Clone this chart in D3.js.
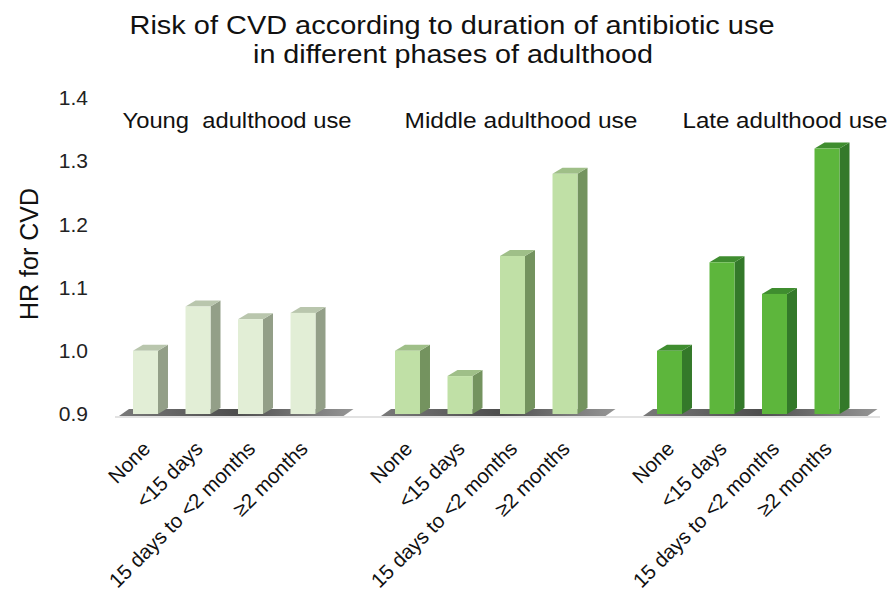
<!DOCTYPE html>
<html>
<head>
<meta charset="utf-8">
<script src="https://cdn.jsdelivr.net/npm/d3@7"></script>
<style>
  html, body { margin: 0; padding: 0; background: #fff; }
  svg { display: block; font-family: "Liberation Sans", Arial, sans-serif; }
</style>
</head>
<body>
<svg id="chart" width="891" height="614"></svg>
<script>
// Phases of adulthood (panels) and antibiotic-use duration categories
const phases = ["Young adulthood use", "Middle adulthood use", "Late adulthood use"];
const durations = ["None", "<15 days", "15 days to <2 months", "\u22652 months"];

// Hazard ratio for CVD per phase, in the order of `durations`
const youngHR  = [1.00, 1.07, 1.05, 1.06];
const middleHR = [1.00, 0.96, 1.15, 1.28];
const lateHR   = [1.00, 1.14, 1.09, 1.32];

const yTicks = [0.9, 1.0, 1.1, 1.2, 1.3, 1.4];

const seriesByPhase = [youngHR, middleHR, lateHR];

// Face colours for each panel: front, side, top
const palette = [
  { front: "#e2eed6", side: "#939f88", top: "#b9c6ad" },
  { front: "#c0e0a6", side: "#74935f", top: "#9fbf88" },
  { front: "#5db63c", side: "#34792a", top: "#3f8d2f" }
];

// Panel heading placement (centre offset within the panel, rendered width)
const headingCenter = [117, 139, 141];
const headingWidth = [229, 233, 205];
const headingText = ["Young  adulthood use", "Middle adulthood use", "Late adulthood use"];

const svg = d3.select("#chart");

const y = d3.scaleLinear().domain([0.9, 1.4]).range([414, 98]);
const outer = d3.scaleBand().domain(phases).range([120, 906]);
const inner = d3.scaleBand().domain(durations).range([13, 195.5]).paddingInner(0.524);

const depthX = 10, depthY = 6;
const base = y(0.9);

// Title (two lines)
svg.append("text")
  .attr("x", 452).attr("y", 34)
  .attr("text-anchor", "middle")
  .attr("font-size", 25).attr("fill", "#111")
  .attr("textLength", 645).attr("lengthAdjust", "spacingAndGlyphs")
  .text("Risk of CVD according to duration of antibiotic use");
svg.append("text")
  .attr("x", 453).attr("y", 63)
  .attr("text-anchor", "middle")
  .attr("font-size", 25).attr("fill", "#111")
  .attr("textLength", 400).attr("lengthAdjust", "spacingAndGlyphs")
  .text("in different phases of adulthood");

// Y axis: labels only
const yAxis = d3.axisLeft(y).tickValues(yTicks).tickSize(0).tickPadding(0)
  .tickFormat(d3.format(".1f"));
const gy = svg.append("g").attr("transform", "translate(88,0)").call(yAxis);
gy.select(".domain").remove();
gy.selectAll("text")
  .attr("font-size", 21).attr("fill", "#222")
  .attr("font-family", "'Liberation Sans', Arial, sans-serif");

svg.append("text")
  .attr("transform", "translate(38,254) rotate(-90)")
  .attr("text-anchor", "middle")
  .attr("font-size", 25).attr("fill", "#111")
  .text("HR for CVD");

// Gradient for the floor shading under each panel
const defs = svg.append("defs");
const fg = defs.append("linearGradient").attr("id", "floorGrad")
  .attr("x1", 0).attr("y1", 0).attr("x2", 1).attr("y2", 0);
fg.append("stop").attr("offset", "0%").attr("stop-color", "#6a6a6a");
fg.append("stop").attr("offset", "50%").attr("stop-color", "#3a3a3a");
fg.append("stop").attr("offset", "100%").attr("stop-color", "#8a8a8a");

// Baseline line
svg.append("line")
  .attr("x1", 115).attr("x2", 880)
  .attr("y1", base + 3).attr("y2", base + 3)
  .attr("stroke", "#d8d8d8").attr("stroke-width", 1.5);

phases.forEach((phase, pi) => {
  const g = svg.append("g").attr("transform", `translate(${outer(phase)},0)`);
  const col = palette[pi];
  const vals = seriesByPhase[pi];

  // Panel heading
  g.append("text")
    .attr("x", headingCenter[pi])
    .attr("y", 128)
    .attr("text-anchor", "middle")
    .attr("font-size", 22).attr("fill", "#111")
    .attr("xml:space", "preserve")
    .attr("textLength", headingWidth[pi]).attr("lengthAdjust", "spacingAndGlyphs")
    .text(headingText[pi]);

  // Floor strip
  const fx0 = inner(durations[0]) - 14;
  const fx1 = inner(durations[3]) + inner.bandwidth() + 28;
  g.append("path")
    .attr("d", `M${fx0},${base + 2} L${fx0 + depthX},${base - depthY + 1} L${fx1 + depthX},${base - depthY + 1} L${fx1},${base + 2} Z`)
    .attr("fill", "url(#floorGrad)").attr("opacity", 0.9);

  // 3-D bars
  durations.forEach((d, i) => {
    const x0 = inner(d), w = inner.bandwidth();
    const yt = y(vals[i]);
    const bar = g.append("g");
    // side face
    bar.append("path")
      .attr("d", `M${x0 + w},${yt} L${x0 + w + depthX},${yt - depthY} L${x0 + w + depthX},${base - depthY} L${x0 + w},${base} Z`)
      .attr("fill", col.side);
    // top face
    bar.append("path")
      .attr("d", `M${x0},${yt} L${x0 + depthX},${yt - depthY} L${x0 + w + depthX},${yt - depthY} L${x0 + w},${yt} Z`)
      .attr("fill", col.top);
    // front face
    bar.append("rect")
      .attr("x", x0).attr("y", yt)
      .attr("width", w).attr("height", base - yt)
      .attr("fill", col.front);

    // Rotated category label
    g.append("text")
      .attr("transform", `translate(${x0 + w / 2 + 6},${base + 36}) rotate(-45)`)
      .attr("text-anchor", "end")
      .attr("font-size", 20.5).attr("fill", "#111")
      .text(d);
  });
});
</script>
</body>
</html>
